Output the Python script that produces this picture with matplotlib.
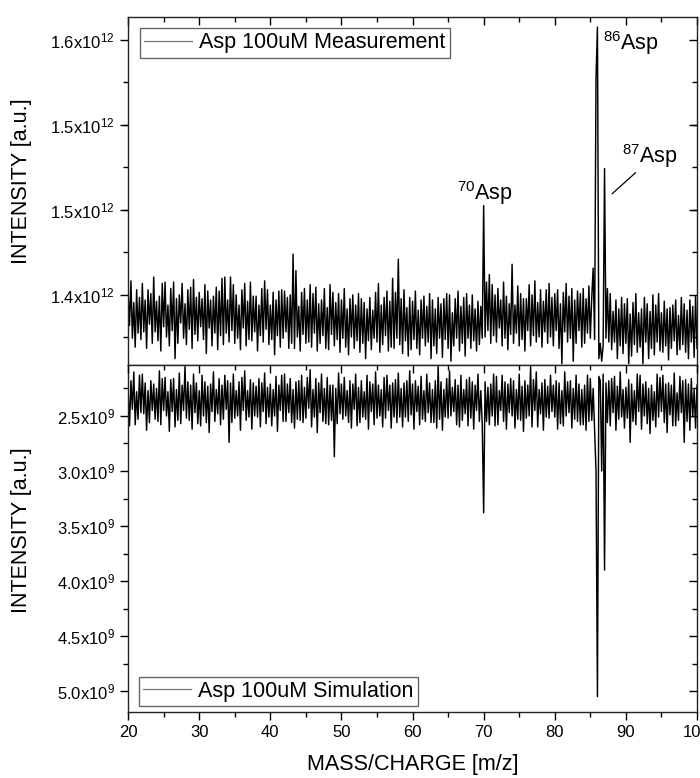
import numpy as np
import matplotlib
matplotlib.use("Agg")
import matplotlib.pyplot as plt
from matplotlib.lines import Line2D
from matplotlib.ticker import MultipleLocator, FixedLocator

plt.rcParams['font.family'] = ['Liberation Sans', 'DejaVu Sans']
plt.rcParams['mathtext.fontset'] = 'custom'
plt.rcParams['mathtext.rm'] = 'Liberation Sans'
plt.rcParams['mathtext.it'] = 'Liberation Sans:italic'
plt.rcParams['mathtext.bf'] = 'Liberation Sans:bold'

#  Measured spectrum, intensity in units of 1e9, one value every 0.2 m/z from 20 to 100
measurement = [
    1403, 1376, 1411, 1366, 1394,  1359, 1404, 1370, 1398, 1365,
    1409, 1371, 1396, 1358, 1404,  1377, 1401, 1362, 1414, 1371,
    1395, 1364, 1399, 1356, 1409,  1375, 1410, 1367, 1392, 1360,
    1405, 1372, 1410, 1350, 1397,  1362, 1400, 1378, 1409, 1366,
    1393, 1361, 1404, 1373, 1406,  1358, 1412, 1369, 1398, 1364,
    1402, 1375, 1397, 1365, 1408,  1354, 1403, 1374, 1396, 1360,
    1399, 1370, 1406, 1357, 1403,  1368, 1413, 1361, 1414, 1370,
    1396, 1363, 1414, 1372, 1408,  1362, 1400, 1366, 1392, 1357,
    1404, 1374, 1409, 1360, 1395,  1365, 1410, 1364, 1399, 1371,
    1399, 1356, 1392, 1368, 1405,  1363, 1411, 1373, 1404, 1361,
    1392, 1365, 1402, 1353, 1396,  1368, 1403, 1359, 1404, 1366,
    1403, 1371, 1398, 1358, 1400,  1362, 1432, 1358, 1419, 1367,
    1391, 1356, 1402, 1369, 1405,  1362, 1396, 1363, 1408, 1359,
    1401, 1370, 1406, 1356, 1393,  1362, 1396, 1368, 1405, 1358,
    1390, 1357, 1408, 1369, 1402,  1360, 1394, 1365, 1401, 1355,
    1396, 1366, 1405, 1359, 1389,  1353, 1397, 1367, 1400, 1358,
    1392, 1364, 1401, 1355, 1397,  1362, 1394, 1350, 1389, 1364,
    1398, 1357, 1388, 1366, 1402,  1363, 1409, 1355, 1392, 1361,
    1398, 1368, 1403, 1356, 1395,  1359, 1413, 1358, 1402, 1366,
    1428, 1361, 1397, 1354, 1404,  1364, 1390, 1352, 1398, 1357,
    1395, 1365, 1403, 1358, 1388,  1353, 1396, 1366, 1399, 1360,
    1391, 1363, 1401, 1350, 1396,  1360, 1389, 1354, 1398, 1366,
    1393, 1351, 1397, 1365, 1401,  1358, 1400, 1348, 1386, 1360,
    1397, 1366, 1403, 1356, 1391,  1362, 1398, 1352, 1401, 1366,
    1392, 1358, 1400, 1364, 1389,  1356, 1395, 1361, 1391, 1366,
    1470, 1367, 1410, 1372, 1416,  1362, 1408, 1368, 1400, 1363,
    1405, 1374, 1396, 1360, 1410,  1366, 1399, 1357, 1393, 1369,
    1424, 1362, 1392, 1370, 1407,  1360, 1401, 1365, 1397, 1356,
    1397, 1372, 1408, 1360, 1400,  1368, 1411, 1363, 1394, 1367,
    1404, 1359, 1395, 1371, 1404,  1362, 1409, 1367, 1398, 1360,
    1401, 1372, 1404, 1358, 1393,  1346, 1402, 1371, 1409, 1363,
    1399, 1366, 1405, 1348, 1396,  1362, 1403, 1372, 1401, 1359,
    1405, 1362, 1397, 1370, 1407,  1366, 1398, 1421, 1365, 1570,
    1610, 1350, 1362, 1348, 1360,  1499, 1366, 1405, 1363, 1401,
    1357, 1387, 1363, 1396, 1350,  1389, 1360, 1398, 1354, 1393,
    1362, 1397, 1346, 1385, 1352,  1394, 1361, 1401, 1355, 1386,
    1359, 1389, 1346, 1398, 1363,  1393, 1350, 1387, 1358, 1400,
    1353, 1392, 1363, 1401, 1356,  1386, 1355, 1395, 1360, 1389,
    1349, 1390, 1358, 1392, 1364,  1396, 1353, 1384, 1357, 1398,
    1361, 1393, 1355, 1388, 1350,  1396, 1363, 1391, 1351, 1399,
    1358,
]

#  Simulated spectrum, intensity in units of 1e7, same sampling
simulation = [
    226, 259, 218, 244, 210,  258, 228, 253, 213, 247,
    212, 248, 220, 263, 227,  256, 218, 245, 221, 253,
    225, 255, 209, 258, 216,  245, 215, 250, 228, 264,
    217, 246, 216, 260, 226,  254, 211, 257, 222, 245,
    205, 252, 219, 254, 222,  262, 212, 247, 220, 257,
    227, 259, 213, 250, 219,  256, 223, 265, 221, 246,
    210, 255, 226, 248, 216,  258, 222, 253, 213, 244,
    218, 274, 220, 256, 212,  252, 227, 250, 219, 263,
    215, 245, 209, 254, 227,  251, 217, 262, 220, 250,
    223, 251, 216, 260, 220,  246, 211, 257, 224, 251,
    221, 259, 226, 250, 214,  264, 222, 245, 213, 255,
    212, 255, 221, 247, 216,  256, 226, 261, 219, 253,
    218, 254, 213, 256, 224,  252, 215, 243, 208, 260,
    226, 251, 216, 265, 220,  247, 212, 255, 225, 257,
    215, 258, 222, 254, 222,  287, 225, 257, 211, 248,
    221, 253, 215, 250, 227,  256, 218, 261, 221, 244,
    212, 259, 224, 256, 218,  251, 228, 253, 213, 262,
    219, 246, 221, 258, 210,  252, 222, 250, 226, 260,
    215, 252, 213, 245, 222,  261, 220, 251, 217, 256,
    211, 251, 225, 260, 220,  251, 218, 255, 209, 249,
    221, 262, 218, 246, 223,  258, 214, 253, 227, 255,
    212, 247, 220, 256, 226,  256, 218, 261, 205, 253,
    219, 263, 226, 251, 216,  252, 209, 250, 224, 246,
    217, 258, 222, 260, 213,  254, 226, 248, 217, 259,
    215, 252, 219, 262, 222,  245, 212, 255, 227, 257,
    338, 219, 255, 224, 258,  221, 250, 212, 259, 214,
    258, 227, 245, 213, 255,  219, 262, 221, 247, 216,
    250, 218, 261, 226, 253,  212, 254, 223, 264, 218,
    252, 222, 250, 205, 260,  217, 245, 210, 260, 226,
    248, 220, 263, 217, 251,  223, 252, 213, 246, 222,
    251, 218, 262, 220, 257,  227, 259, 210, 250, 219,
    247, 218, 261, 225, 253,  213, 255, 221, 258, 226,
    258, 222, 263, 213, 255,  216, 254, 225, 262, 300,
    505, 214, 218, 300, 212,  390, 220, 256, 218, 259,
    216, 247, 214, 263, 223,  253, 210, 251, 226, 261,
    224, 252, 217, 274, 221,  255, 227, 258, 212, 246,
    213, 262, 221, 250, 219,  257, 225, 266, 222, 254,
    228, 260, 212, 251, 215,  246, 213, 256, 221, 265,
    220, 249, 222, 259, 211,  259, 229, 254, 214, 247,
    218, 274, 217, 255, 221,  263, 216, 251, 226, 261,
    222,
]

top_ticks = [1.4e12, 1.4667e12, 1.5333e12, 1.6e12]
top_tick_labels = ['1.4x10$^{12}$', '1.5x10$^{12}$', '1.5x10$^{12}$', '1.6x10$^{12}$']
bottom_ticks = [2.5e9, 3.0e9, 3.5e9, 4.0e9, 4.5e9, 5.0e9]
bottom_tick_labels = ['2.5x10$^{9}$', '3.0x10$^{9}$', '3.5x10$^{9}$',
                      '4.0x10$^{9}$', '4.5x10$^{9}$', '5.0x10$^{9}$']

#  peak labels: text, x, y of text baseline
peak_labels = [('$^{86}$Asp', 86.8, 1.5922e12),
               ('$^{70}$Asp', 66.25, 1.4745e12)]

mz_top = np.linspace(20, 100, len(measurement))
mz_bot = np.linspace(20, 100, len(simulation))
y_top = np.array(measurement) * 1e9
y_bot = np.array(simulation) * 1e7

fig = plt.figure(figsize=(7, 7.78), dpi=100)
ax1 = fig.add_axes([0.183, 0.531, 0.8127, 0.4473])
ax2 = fig.add_axes([0.183, 0.0848, 0.8127, 0.4462], sharex=ax1)

ax1.plot(mz_top, y_top, color="black", linewidth=1.05)
ax2.plot(mz_bot, y_bot, color="black", linewidth=1.05)

ax1.set_xlim(20, 100)
ax1.set_ylim(1.3451e12, 1.618e12)
ax2.set_ylim(5.19e9, 2.036e9)

#  Ticks, Origin style: out on left and bottom, in on top and right
for ax in (ax1, ax2):
    for sp in ax.spines.values():
        sp.set_linewidth(1.0)
        sp.set_color("#222222")
    ax.xaxis.set_major_locator(MultipleLocator(10))
    ax.xaxis.set_minor_locator(MultipleLocator(5))
    ax.tick_params(axis="y", which="both", left=True, right=False, direction="out",
                   labelsize=12, width=1.0)
    ax.tick_params(axis="y", which="major", length=6)
    ax.tick_params(axis="y", which="minor", length=3.5)
    ax.tick_params(axis="x", which="major", length=6, width=1.0)
    ax.tick_params(axis="x", which="minor", length=3.5, width=1.0)

ax1.yaxis.set_major_locator(FixedLocator(top_ticks))
ax1.set_yticklabels(top_tick_labels)
ax1.yaxis.set_minor_locator(MultipleLocator(1e12 / 30))
ax1.tick_params(axis="x", which="both", top=True, bottom=False, direction="in",
                labeltop=False, labelbottom=False)

ax2.yaxis.set_major_locator(FixedLocator(bottom_ticks))
ax2.set_yticklabels(bottom_tick_labels)
ax2.yaxis.set_minor_locator(MultipleLocator(0.25e9))
ax2.tick_params(axis="x", which="both", top=False, bottom=True, direction="out",
                labelsize=12)

#  right side ticks pointing inward
for ax in (ax1, ax2):
    tw = ax.twinx()
    tw.set_ylim(ax.get_ylim())
    tw.yaxis.set_major_locator(FixedLocator(ax.get_yticks()))
    tw.yaxis.set_minor_locator(ax.yaxis.get_minor_locator())
    tw.tick_params(axis="y", which="both", direction="in", labelright=False, width=1.0)
    tw.tick_params(axis="y", which="major", length=6)
    tw.tick_params(axis="y", which="minor", length=3.5)
    for sp in tw.spines.values():
        sp.set_visible(False)

#  top ticks of the lower panel pointing inward
twx = ax2.twiny()
twx.set_xlim(20, 100)
twx.xaxis.set_major_locator(MultipleLocator(10))
twx.xaxis.set_minor_locator(MultipleLocator(5))
twx.tick_params(axis="x", which="both", direction="in", labeltop=False, width=1.0)
twx.tick_params(axis="x", which="major", length=6)
twx.tick_params(axis="x", which="minor", length=3.5)
for sp in twx.spines.values():
    sp.set_visible(False)

ax1.set_ylabel("INTENSITY [a.u.]", fontsize=15.5)
ax2.set_ylabel("INTENSITY [a.u.]", fontsize=15.5)
ax1.yaxis.set_label_coords(-0.169, 0.529)
ax2.yaxis.set_label_coords(-0.169, 0.524)
ax2.set_xlabel("MASS/CHARGE [m/z]", fontsize=15.5, labelpad=10)

#  Peak labels
for txt, px, py in peak_labels:
    ax1.text(px, py, txt, fontsize=15.5, va="baseline", ha="left")
ax1.annotate("$^{87}$Asp", xy=(88.05, 1.4792e12), xytext=(89.45, 1.5035e12),
             fontsize=15.5, va="baseline", ha="left",
             arrowprops=dict(arrowstyle="-", color="black", lw=0.9,
                             shrinkA=0, shrinkB=0, relpos=(0.3, 0)))

#  Legends
h1 = Line2D([], [], color="#777777", linewidth=0.9)
ax1.legend([h1], ["Asp 100uM Measurement"], loc="upper left", bbox_to_anchor=(0.021, 0.968),
           borderaxespad=0, fontsize=15.5, fancybox=False, framealpha=1,
           edgecolor="#666666", handlelength=2.2, handletextpad=0.35, borderpad=0.2)
ax2.legend([h1], ["Asp 100uM Simulation"], loc="lower left", bbox_to_anchor=(0.019, 0.017),
           borderaxespad=0, fontsize=15.5, fancybox=False, framealpha=1,
           edgecolor="#666666", handlelength=2.2, handletextpad=0.35, borderpad=0.2)

plt.savefig("out.png", dpi=100)
